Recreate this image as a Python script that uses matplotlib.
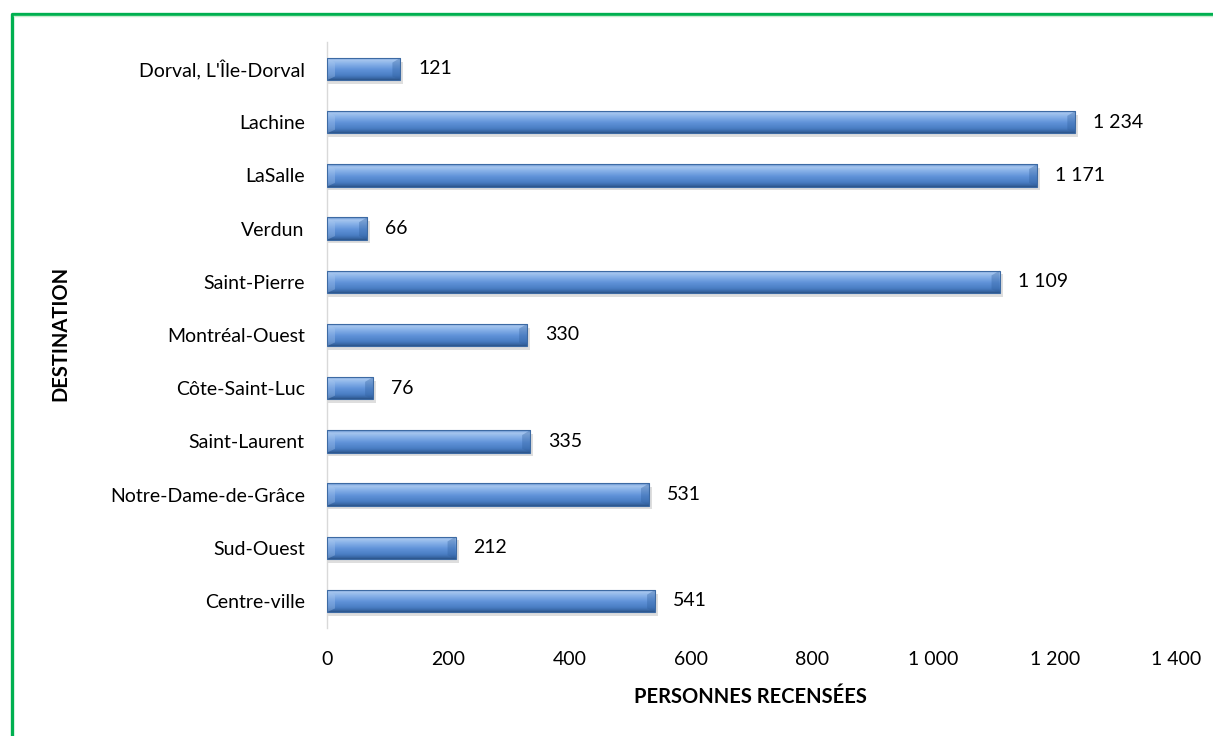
import matplotlib
matplotlib.use("Agg")
import matplotlib.pyplot as plt
import numpy as np
from matplotlib.colors import LinearSegmentedColormap
from matplotlib.patches import Polygon
from matplotlib.lines import Line2D

categories = ["Dorval, L'Île-Dorval", "Lachine", "LaSalle", "Verdun", "Saint-Pierre",
              "Montréal-Ouest", "Côte-Saint-Luc", "Saint-Laurent", "Notre-Dame-de-Grâce",
              "Sud-Ouest", "Centre-ville"]
values = [121, 1234, 1171, 66, 1109, 330, 76, 335, 531, 212, 541]
xticks = [0, 200, 400, 600, 800, 1000, 1200, 1400]
xtick_labels = ["0", "200", "400", "600", "800", "1 000", "1 200", "1 400"]

plt.rcParams['font.family'] = ['Lato', 'DejaVu Sans']

fig = plt.figure(figsize=(12.13, 7.36), dpi=100)
ax = fig.add_axes([0.2696, 0.1473, 0.6999, 0.7951])

n = len(categories)
ypos = np.arange(n)[::-1]
h = 0.42

cmap = LinearSegmentedColormap.from_list("bevel", [
    (0.0, '#5f8fd0'), (0.12, '#a6c6ee'), (0.3, '#86b0e8'),
    (0.55, '#5f92d8'), (0.8, '#4a7ec4'), (0.92, '#3a69a8'), (1.0, '#2c5589')])
grad = np.linspace(0, 1, 64).reshape(-1, 1)

ax.set_xlim(0, 1400)
ax.set_ylim(-0.5, n - 0.5)

FS = 14
px = 1400 / (0.6999 * 1213)  # data units per pixel in x
for y, v in zip(ypos, values):
    # shadow
    ax.barh(y - 0.07, v + 3 * px, height=h, left=0, color='#7f7f7f', alpha=0.25, zorder=1,
            linewidth=0)
    bars = ax.barh(y, v, height=h, color='#4f81bd', zorder=2, linewidth=0)
    patch = bars.patches[0]
    im = ax.imshow(grad, extent=(0, v, y - h / 2, y + h / 2), aspect='auto',
                   cmap=cmap, origin='upper', zorder=3)
    im.set_clip_path(patch)
    cap = min(8 * px, v / 3)
    # left bevel (lighter)
    ax.add_patch(Polygon([(0, y + h / 2), (cap, y + h / 2 - 0.09), (cap, y - h / 2 + 0.07),
                          (0, y - h / 2)], closed=True, color='#a9c7ee', alpha=0.35,
                         zorder=4, linewidth=0))
    # right bevel (darker)
    ax.add_patch(Polygon([(v, y + h / 2), (v - cap, y + h / 2 - 0.09), (v - cap, y - h / 2 + 0.07),
                          (v, y - h / 2)], closed=True, color='#2f5f9e', alpha=0.35,
                         zorder=4, linewidth=0))
    ax.add_patch(Polygon([(0, y + h / 2), (v, y + h / 2), (v, y - h / 2), (0, y - h / 2)],
                         closed=True, fill=False, edgecolor='#3d6aa3', linewidth=0.8,
                         zorder=5))
    lab = f"{v:,}".replace(",", " ")
    ax.text(v + 18 * px, y, lab, va='center', ha='left', fontsize=FS, color='#000000')

ax.set_yticks(ypos)
ax.set_yticklabels(categories, fontsize=FS)
ax.set_xticks(xticks)
ax.set_xticklabels(xtick_labels, fontsize=FS)
ax.tick_params(axis='y', length=0, pad=16)
ax.tick_params(axis='x', length=0, pad=17)

for s in ['top', 'right', 'bottom']:
    ax.spines[s].set_visible(False)
ax.spines['left'].set_color('#d9d9d9')
ax.spines['left'].set_linewidth(1.0)

fig.text(750 / 1213, 1 - 697 / 736, "PERSONNES RECENSÉES", ha='center', va='center',
         fontsize=14.5, fontweight='bold')
fig.text(60 / 1213, 1 - 333 / 736, "DESTINATION", ha='center', va='center',
         rotation=90, fontsize=14.5, fontweight='bold')

# green frame
fig.add_artist(Line2D([12 / 1213, 12 / 1213, 1.01], [-0.01, 1 - 13.5 / 736, 1 - 13.5 / 736],
                      transform=fig.transFigure, color='#00b050', linewidth=2.4))
fig.add_artist(Line2D([14 / 1213, 1.01], [1 - 16 / 736, 1 - 16 / 736],
                      transform=fig.transFigure, color='#c6efce', linewidth=1.0))

fig.savefig("out.png", dpi=100)
